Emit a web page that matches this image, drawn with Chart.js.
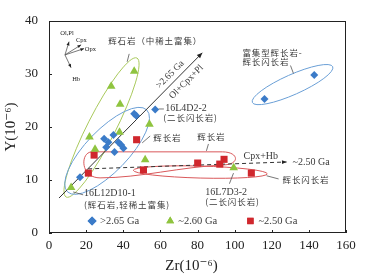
<!DOCTYPE html>
<html>
<head>
<meta charset="utf-8">
<script src="https://cdn.jsdelivr.net/npm/chart.js"></script>
<style>
  html, body { margin: 0; padding: 0; background: #fff; }
</style>
</head>
<body>
<canvas id="zrChart" width="367" height="279"></canvas>
<script>
// groups and values
var groupNames = [">2.65 Ga", "~2.60 Ga", "~2.50 Ga"];

var zrOld = [16.7, 29.7, 32.0, 30.8, 34.7, 37.4, 38.9, 40.1, 35.3, 45.9, 47.0, 57.2, 116.1, 142.9];
var yOld  = [10.5, 17.8, 17.1, 16.2, 18.5, 17.1, 16.6, 16.0, 15.3, 22.5, 22.1, 23.3, 25.3, 29.8];

var zrMid = [11.9, 21.8, 24.8, 33.5, 38.3, 38.0, 45.9, 51.8, 54.1, 99.5];
var yMid  = [8.6, 18.1, 15.8, 27.7, 24.3, 19.0, 30.5, 13.8, 20.5, 12.3];

var zrYoung = [21.2, 24.3, 47.2, 50.9, 80.1, 92.0, 94.3, 109.0];
var yYoung  = [11.3, 14.7, 17.6, 11.9, 13.2, 13.0, 13.9, 11.3];

var xTicks = [0, 20, 40, 60, 80, 100, 120, 140, 160];
var yTicks = [0, 10, 20, 30, 40];

function toPoints(xs, ys) {
  return xs.map(function (x, i) { return { x: x, y: ys[i] }; });
}

var blue = '#3b7bc8', green = '#8fc43f', red = '#d0272d';
var serif = '"Liberation Serif", "DejaVu Serif", serif';
var cjk = '"Noto Sans CJK SC", sans-serif';
var ink = '#3a3a3a';

// outlines around the rock groups (centre in data units, radii in px)
var ellipses = [
  { c: [28.3, 19.9], rx: 78, ry: 14, rot: -63, color: '#a9c95c' },
  { c: [31.3, 15.5], rx: 57, ry: 21, rot: -46, color: '#6a9fd6' },
  { c: [131.2, 28.0], rx: 44, ry: 10, rot: -24, color: '#6a9fd6' },
  { c: [81.5, 11.5], rx: 67, ry: 6, rot: 1.5, color: '#d9585a' }
];

// gabbro outline (data units)
var gabbroPath = [
  ['M', 23.2, 15.31],
  ['L', 93.4, 15.31],
  ['C', 102.1, 15.31, 103.1, 13.04, 94.5, 12.85],
  ['C', 70.7, 12.48, 49.1, 10.40, 27.5, 10.40],
  ['C', 16.7, 10.40, 16.7, 15.31, 23.2, 15.31]
];

var labels = [
  { t: '辉石岩（中稀土富集）', x: 31.9, y: 36.3, f: cjk, s: 8.5 },
  { t: '富集型辉长岩-', x: 104.2, y: 34.0, f: cjk, s: 8.5 },
  { t: '辉长闪长岩', x: 104.2, y: 32.3, f: cjk, s: 8.5 },
  { t: '16L4D2-2', x: 62.6, y: 23.6, f: serif, s: 10 },
  { t: '(二长闪长岩)', x: 61.6, y: 21.7, f: cjk, s: 8.5 },
  { t: '辉长岩', x: 56.2, y: 18.0, f: cjk, s: 8.5 },
  { t: '辉长岩', x: 79.9, y: 18.1, f: cjk, s: 8.5 },
  { t: 'Cpx+Hb', x: 104.8, y: 14.4, f: serif, s: 10 },
  { t: '~2.50 Ga', x: 131.2, y: 13.4, f: serif, s: 10 },
  { t: '辉长闪长岩', x: 125.8, y: 10.0, f: cjk, s: 8.5 },
  { t: '16L7D3-2', x: 84.2, y: 7.75, f: serif, s: 10 },
  { t: '(二长闪长岩)', x: 84.2, y: 5.9, f: cjk, s: 8.5 },
  { t: '16L12D10-1', x: 18.9, y: 7.4, f: serif, s: 10 },
  { t: '(辉石岩,轻稀土富集)', x: 18.9, y: 5.3, f: cjk, s: 8.5 }
];

var leaders = [
  [43.2, 33.8, 42.1, 32.3],
  [130.1, 31.6, 131.7, 30.1],
  [59.0, 23.4, 61.9, 23.4],
  [54.5, 18.3, 50.2, 17.0],
  [85.9, 16.8, 84.8, 15.5],
  [117.2, 10.8, 123.7, 10.2],
  [99.4, 11.3, 97.2, 9.3],
  [13.0, 7.75, 18.4, 7.2]
];

var mineralOrigin = [8.6, 33.6];
var minerals = [
  { t: 'Ol,Pl', tip: [10.8, 36.1], lab: [9.7, 37.7] },
  { t: 'Cpx', tip: [17.3, 35.5], lab: [17.4, 36.4] },
  { t: 'Opx', tip: [18.9, 34.8], lab: [22.3, 34.6] },
  { t: 'Hb', tip: [11.9, 31.2], lab: [14.6, 29.0] }
];

var legendPos = [[23.2, 2.27], [65.3, 2.27], [108.5, 2.27]];
var legendStyle = ['rectRot', 'triangle', 'rect'];
var legendColor = [blue, green, red];

function arrowHead(ctx, x1, y1, x2, y2, size) {
  var a = Math.atan2(y2 - y1, x2 - x1);
  ctx.beginPath();
  ctx.moveTo(x2, y2);
  ctx.lineTo(x2 - size * Math.cos(a - 0.4), y2 - size * Math.sin(a - 0.4));
  ctx.lineTo(x2 - size * Math.cos(a + 0.4), y2 - size * Math.sin(a + 0.4));
  ctx.closePath();
  ctx.fill();
}

var decor = {
  id: 'decor',
  beforeDatasetsDraw: function (chart) {
    var ctx = chart.ctx, sx = chart.scales.x, sy = chart.scales.y;
    var X = function (v) { return sx.getPixelForValue(v); };
    var Y = function (v) { return sy.getPixelForValue(v); };
    ctx.save();
    ctx.lineWidth = 1;
    ellipses.forEach(function (e) {
      ctx.strokeStyle = e.color;
      ctx.beginPath();
      ctx.ellipse(X(e.c[0]), Y(e.c[1]), e.rx, e.ry, e.rot * Math.PI / 180, 0, Math.PI * 2);
      ctx.stroke();
    });
    ctx.strokeStyle = '#d9585a';
    ctx.beginPath();
    gabbroPath.forEach(function (p) {
      if (p[0] === 'M') ctx.moveTo(X(p[1]), Y(p[2]));
      else if (p[0] === 'L') ctx.lineTo(X(p[1]), Y(p[2]));
      else ctx.bezierCurveTo(X(p[1]), Y(p[2]), X(p[3]), Y(p[4]), X(p[5]), Y(p[6]));
    });
    ctx.stroke();

    // Ol+Cpx+Pl trend
    ctx.strokeStyle = '#333';
    ctx.fillStyle = '#222';
    var x1 = X(5.4), y1 = Y(6.6), x2 = X(82.6), y2 = Y(34.0);
    ctx.beginPath(); ctx.moveTo(x1, y1); ctx.lineTo(x2, y2); ctx.stroke();
    arrowHead(ctx, x1, y1, x2, y2, 6);

    // Cpx+Hb trend (dashed)
    x1 = X(21.1); y1 = Y(12.1); x2 = X(128.0); y2 = Y(13.4);
    ctx.setLineDash([4, 3]);
    ctx.beginPath(); ctx.moveTo(x1, y1); ctx.lineTo(x2, y2); ctx.stroke();
    ctx.setLineDash([]);
    arrowHead(ctx, x1, y1, x2, y2, 5);

    // leader lines
    ctx.strokeStyle = '#555';
    ctx.lineWidth = 0.8;
    leaders.forEach(function (l) {
      ctx.beginPath(); ctx.moveTo(X(l[0]), Y(l[1])); ctx.lineTo(X(l[2]), Y(l[3])); ctx.stroke();
    });

    // mineral vectors
    var ox = X(mineralOrigin[0]), oy = Y(mineralOrigin[1]);
    ctx.font = '6.5px ' + serif;
    ctx.textAlign = 'center';
    ctx.textBaseline = 'middle';
    minerals.forEach(function (m) {
      var tx = X(m.tip[0]), ty = Y(m.tip[1]);
      ctx.beginPath(); ctx.moveTo(ox, oy); ctx.lineTo(tx, ty); ctx.stroke();
      arrowHead(ctx, ox, oy, tx, ty, 4);
      ctx.fillText(m.t, X(m.lab[0]), Y(m.lab[1]));
    });
    ctx.restore();
  },
  afterDatasetsDraw: function (chart) {
    var ctx = chart.ctx, sx = chart.scales.x, sy = chart.scales.y, a = chart.chartArea;
    var X = function (v) { return sx.getPixelForValue(v); };
    var Y = function (v) { return sy.getPixelForValue(v); };
    ctx.save();
    // frame and inward ticks
    ctx.strokeStyle = '#222';
    ctx.lineWidth = 1;
    ctx.strokeRect(a.left + 0.5, a.top + 0.5, a.right - a.left - 1, a.bottom - a.top - 1);
    ctx.beginPath();
    xTicks.forEach(function (v) {
      var p = Math.round(X(v)) + 0.5;
      ctx.moveTo(p, a.bottom); ctx.lineTo(p, a.bottom - 3);
    });
    yTicks.forEach(function (v) {
      var p = Math.round(Y(v)) + 0.5;
      ctx.moveTo(a.left, p); ctx.lineTo(a.left + 3, p);
    });
    ctx.stroke();

    // labels
    ctx.fillStyle = ink;
    ctx.textBaseline = 'middle';
    ctx.textAlign = 'left';
    labels.forEach(function (l) {
      ctx.font = l.s + 'px ' + l.f;
      ctx.letterSpacing = l.f === cjk ? '0.9px' : '0px';
      ctx.fillText(l.t, X(l.x), Y(l.y));
    });
    ctx.letterSpacing = '0px';

    // rotated trend labels
    ctx.font = '9.5px ' + serif;
    ctx.textAlign = 'center';
    [['>2.65 Ga', 65.3, 29.9], ['Ol+Cpx+Pl', 74.0, 28.5]].forEach(function (r) {
      ctx.save();
      ctx.translate(X(r[1]), Y(r[2]));
      ctx.rotate(-Math.PI / 4);
      ctx.fillText(r[0], 0, 0);
      ctx.restore();
    });

    // legend inside the plot
    ctx.textAlign = 'left';
    ctx.font = '10.5px ' + serif;
    legendPos.forEach(function (p, i) {
      ctx.fillStyle = legendColor[i];
      Chart.helpers.drawPoint(ctx, { pointStyle: legendStyle[i], radius: 4.5, rotation: 0, borderWidth: 0 }, X(p[0]), Y(p[1]));
      ctx.fill();
      ctx.fillStyle = ink;
      ctx.fillText(groupNames[i], X(p[0]) + 8, Y(p[1]));
    });

    // axis titles
    ctx.fillStyle = '#222';
    ctx.font = '15px ' + serif;
    ctx.textAlign = 'center';
    ctx.fillText('Zr(10⁻⁶)', (a.left + a.right) / 2 - 6, 266);
    ctx.save();
    ctx.translate(11, (a.top + a.bottom) / 2);
    ctx.rotate(-Math.PI / 2);
    ctx.fillText('Y(10⁻⁶)', 0, 0);
    ctx.restore();
    ctx.restore();
  }
};

new Chart(document.getElementById('zrChart'), {
  type: 'scatter',
  data: {
    datasets: [
      { label: groupNames[0], data: toPoints(zrOld, yOld), pointStyle: 'rectRot', pointRadius: 4,
        backgroundColor: blue, borderColor: blue, borderWidth: 0 },
      { label: groupNames[1], data: toPoints(zrMid, yMid), pointStyle: 'triangle', pointRadius: 5,
        backgroundColor: green, borderColor: green, borderWidth: 0 },
      { label: groupNames[2], data: toPoints(zrYoung, yYoung), pointStyle: 'rect', pointRadius: 5,
        backgroundColor: red, borderColor: red, borderWidth: 0 }
    ]
  },
  options: {
    responsive: false,
    animation: false,
    layout: { padding: { left: 0, right: 21, top: 21, bottom: 0 } },
    plugins: { legend: { display: false }, tooltip: { enabled: false } },
    scales: {
      x: {
        type: 'linear', min: 0, max: 160,
        afterFit: function (s) { s.height = 46; },
        afterBuildTicks: function (s) { s.ticks = xTicks.map(function (v) { return { value: v }; }); },
        grid: { display: false, drawTicks: false },
        border: { display: false },
        ticks: { padding: 5, color: '#222', font: { family: serif, size: 13 }, maxRotation: 0 }
      },
      y: {
        type: 'linear', min: 0, max: 40,
        afterFit: function (s) { s.width = 49; },
        afterBuildTicks: function (s) { s.ticks = yTicks.map(function (v) { return { value: v }; }); },
        grid: { display: false, drawTicks: false },
        border: { display: false },
        ticks: { padding: 11, color: '#222', font: { family: serif, size: 13 } }
      }
    }
  },
  plugins: [decor]
});
</script>
</body>
</html>
